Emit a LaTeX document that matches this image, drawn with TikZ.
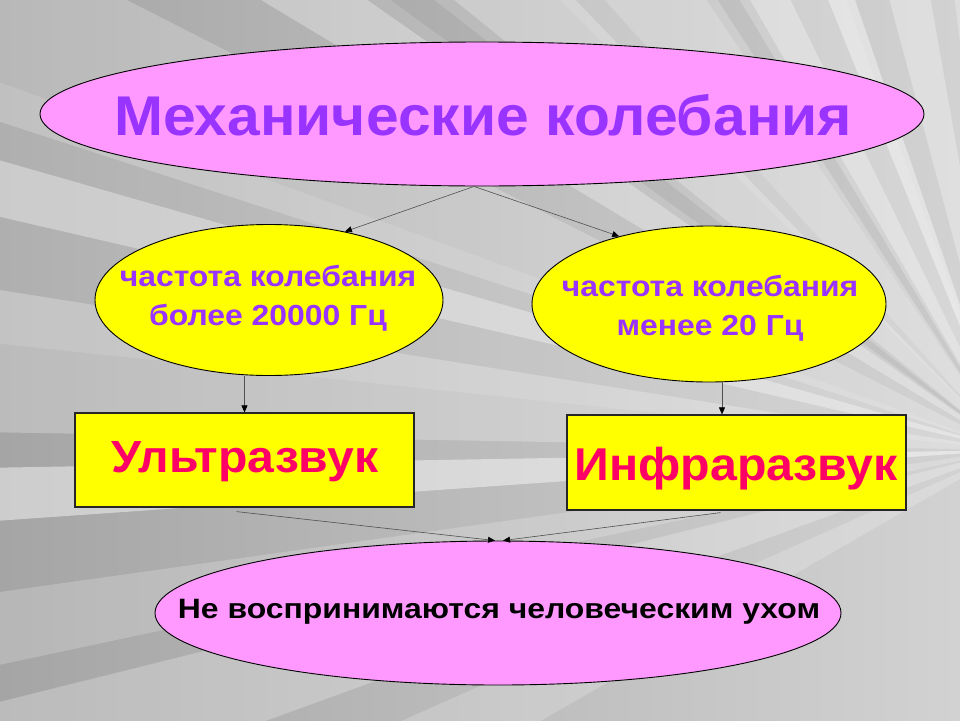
\documentclass[tikz,border=0pt]{standalone}
\usepackage{fontspec}
\setmainfont{Liberation Sans}
\usetikzlibrary{shapes.geometric,arrows.meta,calc}
\definecolor{pinkfill}{RGB}{255,153,255}
\definecolor{yel}{RGB}{255,255,0}
\definecolor{purp}{RGB}{153,51,255}
\definecolor{redtxt}{RGB}{255,0,102}
\definecolor{linegray}{RGB}{80,80,80}
\tikzset{
  pinkell/.style={ellipse, draw=black, line width=0.9pt, fill=pinkfill, inner sep=0pt},
  yelell/.style={ellipse, draw=black, line width=0.9pt, fill=yel, inner sep=0pt},
  yelbox/.style={rectangle, draw=black!85, line width=1.2pt, fill=yel, inner sep=0pt},
  conn/.style={draw=linegray, line width=0.6pt, -{Triangle[length=7pt,width=6pt,color=black]}},
  ray/.style={fill=white},
}
\begin{document}
\begin{tikzpicture}[x=1pt,y=-1pt]
\useasboundingbox (0,0) rectangle (960,720);
% background
\shade[left color={rgb,255:red,165;green,165;blue,165}, right color={rgb,255:red,210;green,210;blue,210}] (0,0) rectangle (960,720);
\begin{scope}
\clip (0,0) rectangle (960,720);
\coordinate (F) at (1010,450);
\foreach \a/\b/\o in {150/156/0.2, 160/166/0.25, 168/172/0.2, 176/179/0.45, 181/189/0.25, 193/196/0.35, 198/207/0.22, 211/215/0.3, 219/226/0.25, 228/236/0.18, 240/244/0.3, 248/251/0.4, 255/260/0.3, 263/268/0.25, 186/200/0.12, 225/250/0.12}{
  \fill[ray, opacity=\o] (F) -- ($(F)+(\a:1600)$) -- ($(F)+(\b:1600)$) -- cycle;
}
\foreach \a/\b/\o in {216/218/0.06, 237/239/0.06}{
  \fill[black, opacity=\o] (F) -- ($(F)+(\a:1600)$) -- ($(F)+(\b:1600)$) -- cycle;
}
\end{scope}
% nodes
\node[pinkell, minimum width=884pt, minimum height=144pt] (top) at (482,114) {};
\node[font=\fontsize{56}{60}\selectfont\bfseries, text=purp] (toptxt) at (483,115) {\scalebox{1.05}[1]{Механические колебания}};
\node[yelell, minimum width=348pt, minimum height=151pt] (yl) at (269,300) {};
\node[font=\fontsize{29}{39}\selectfont\bfseries, text=purp, align=center] (yltxt) at (268,298) {\scalebox{1.1}[1]{частота колебания}\\\scalebox{1.1}[1]{более 20000 Гц}};
\node[yelell, minimum width=354pt, minimum height=156pt] (yr) at (709,304) {};
\node[font=\fontsize{29}{39}\selectfont\bfseries, text=purp, align=center] (yrtxt) at (710,308) {\scalebox{1.1}[1]{частота колебания}\\\scalebox{1.1}[1]{менее 20 Гц}};
\node[yelbox, minimum width=339pt, minimum height=94pt] (ul) at (244.5,460) {};
\node[font=\fontsize{45}{50}\selectfont\bfseries, text=redtxt] (ultxt) at (245,462) {\scalebox{1.07}[1]{Ультразвук}};
\node[yelbox, minimum width=339pt, minimum height=95pt] (ir) at (736.5,462.5) {};
\node[font=\fontsize{46}{52}\selectfont\bfseries, text=redtxt] (irtxt) at (736,469) {\scalebox{1.05}[1]{Инфраразвук}};
\node[pinkell, minimum width=686pt, minimum height=144pt] (bot) at (498,613) {};
\node[font=\fontsize{28}{32}\selectfont\bfseries, text=black] (bottxt) at (499,612) {\scalebox{1.14}[1]{Не воспринимаются человеческим ухом}};
% connectors
\coordinate (c1) at ($(ul.south)+(-8,4)$);
\coordinate (c2) at ($(ir.south)+(-16,2)$);
\coordinate (b1) at ($(bot.north)+(-3,0)$);
\coordinate (b2) at ($(bot.north)+(5,0)$);
\coordinate (r1) at ($(yr.south)+(13,0)$);
\draw[conn] ($(top.south)+(-8,0)$) -- (yl.42);
\draw[conn] ($(top.south)+(-8,0)$) -- (yr.143);
\draw[conn] (yl.south -| ul.north) -- (ul.north);
\draw[conn] (r1) -- (r1 |- ir.north);
\draw[conn] (c1) -- (b1);
\draw[conn] (c2) -- (b2);
\end{tikzpicture}
\end{document}
